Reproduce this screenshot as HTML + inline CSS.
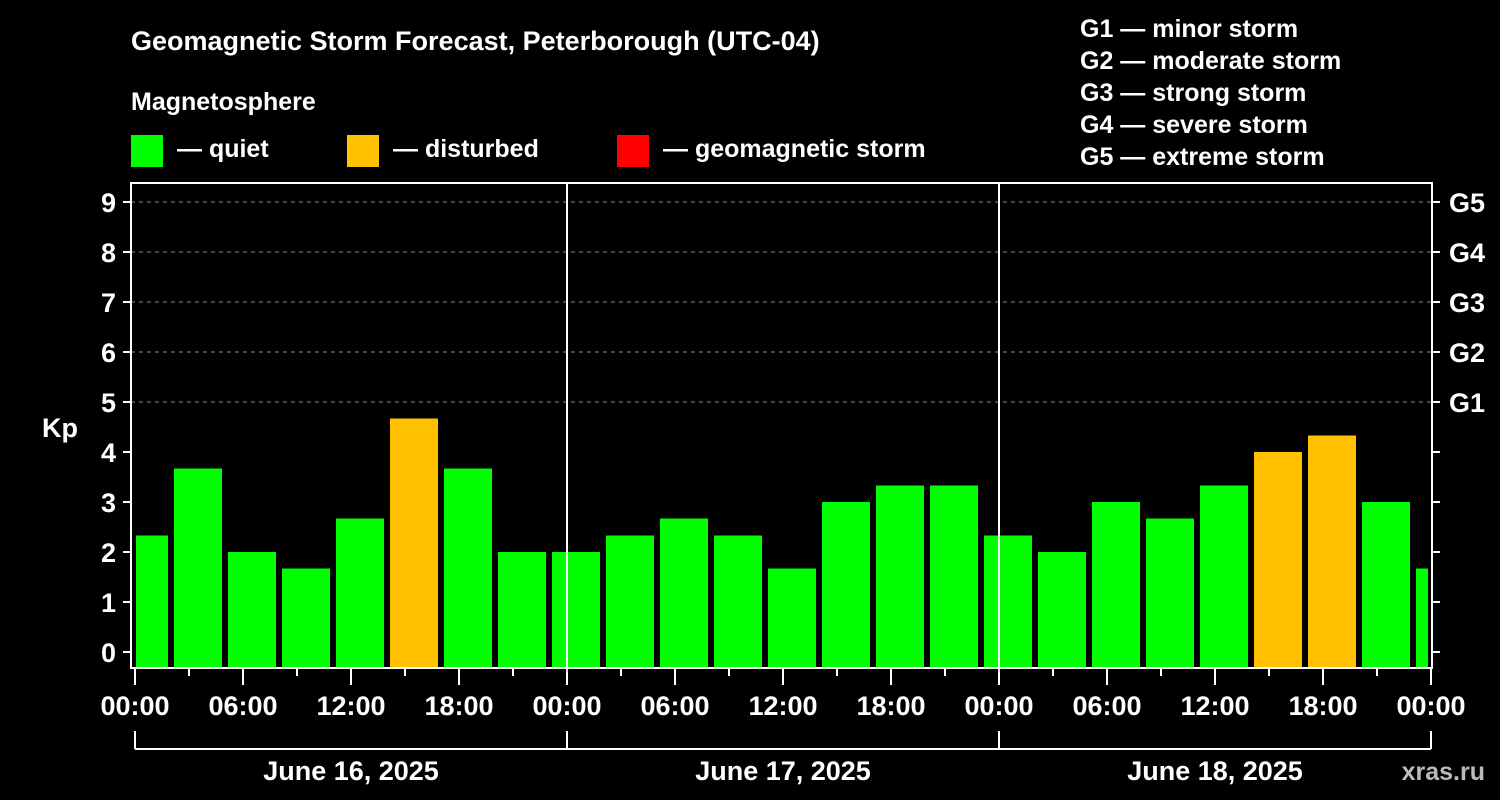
<!DOCTYPE html>
<html><head><meta charset="utf-8"><style>
body{margin:0;background:#000;width:1500px;height:800px;overflow:hidden}
svg{display:block}
text{font-family:"Liberation Sans",sans-serif;font-weight:bold;fill:#fff}
</style></head><body>
<svg id="chart" width="1500" height="800">
<text x="131" y="50" font-size="27">Geomagnetic Storm Forecast, Peterborough (UTC-04)</text>
<text x="131" y="110" font-size="25">Magnetosphere</text>
<g><rect x="131" y="135" width="32" height="32" fill="#00ff00"/><text x="177" y="157" font-size="25">— quiet</text></g>
<g><rect x="347" y="135" width="32" height="32" fill="#ffc000"/><text x="393" y="157" font-size="25">— disturbed</text></g>
<g><rect x="617" y="135" width="32" height="32" fill="#ff0000"/><text x="663" y="157" font-size="25">— geomagnetic storm</text></g>
<g font-size="25">
<text x="1080" y="37">G1 — minor storm</text>
<text x="1080" y="69">G2 — moderate storm</text>
<text x="1080" y="101">G3 — strong storm</text>
<text x="1080" y="133">G4 — severe storm</text>
<text x="1080" y="165">G5 — extreme storm</text>
</g>
<text x="42" y="437" font-size="27">Kp</text>
<text x="1485" y="780" font-size="25" text-anchor="end" fill="#bbb" style="fill:#bbb">xras.ru</text>
<g id="grid"></g><g id="bars"></g><g id="axes"></g>
</svg>
<script>
const kpValues=[2.33,3.67,2.0,1.67,2.67,4.67,3.67,2.0, 2.0,2.33,2.67,2.33,1.67,3.0,3.33,3.33, 2.33,2.0,3.0,2.67,3.33,4.0,4.33,3.0,1.67];
const yTicks=[0,1,2,3,4,5,6,7,8,9];
const gLabels=["G1","G2","G3","G4","G5"];
const xTickLabels=["00:00","06:00","12:00","18:00","00:00","06:00","12:00","18:00","00:00","06:00","12:00","18:00","00:00"];
const dateLabels=["June 16, 2025","June 17, 2025","June 18, 2025"];
const NS="http://www.w3.org/2000/svg";
const L=131,R=1432,T=183,B=668,X0=135,HPX=18;
const y=v=>652-v*50, x=h=>X0+h*HPX;
function mk(tag,attrs,parent,txt){const e=document.createElementNS(NS,tag);for(const k in attrs)e.setAttribute(k,attrs[k]);if(txt!=null)e.textContent=txt;document.getElementById(parent).appendChild(e);return e;}
// grid
for(let i=0;i<gLabels.length;i++){
 const e=mk('line',{x1:L,x2:R,y1:y(5+i),y2:y(5+i),stroke:'#888','stroke-dasharray':'4,4','stroke-width':1},'grid');
 
 
}
// bars
kpValues.forEach((v,i)=>{
 const c=x(i*3+0.5);let a=Math.max(c-24,136),b=Math.min(c+24,1428);
 const col=v>=5?'#ff0000':(v>=4?'#ffc000':'#00ff00');
 const e=mk('rect',{x:a,y:y(v),width:b-a,height:B-y(v),fill:col},'bars');
 
 
});
// axes
const st={stroke:'#fff','stroke-width':2,fill:'none'};
const fr=mk('rect',Object.assign({x:L,y:T,width:R-L,height:B-T},st),'axes');


[1,2].forEach(d=>{const e=mk('line',Object.assign({x1:x(d*24),x2:x(d*24),y1:T,y2:B},st),'axes');
 
 });
yTicks.forEach(t=>{
 mk('line',Object.assign({x1:L-8,x2:L,y1:y(t),y2:y(t)},st),'axes');
 mk('line',Object.assign({x1:R,x2:R+8,y1:y(t),y2:y(t)},st),'axes');
 const e=mk('text',{x:116,y:y(t)+10,'font-size':27,'text-anchor':'end'},'axes',String(t));
 
 
});
gLabels.forEach((g,i)=>{const e=mk('text',{x:1449,y:y(5+i)+10,'font-size':27},'axes',g);
 
 });
for(let h=0;h<=72;h+=3){const major=h%6===0;mk('line',Object.assign({x1:x(h),x2:x(h),y1:B,y2:B+(major?17:8)},st),'axes');}
xTickLabels.forEach((l,i)=>{const e=mk('text',{x:x(i*6),y:715,'font-size':27,'text-anchor':'middle'},'axes',l);
 
 });
mk('line',Object.assign({x1:x(0),x2:x(72),y1:749,y2:749},st),'axes');
for(let d=0;d<=3;d++)mk('line',Object.assign({x1:x(d*24),x2:x(d*24),y1:731,y2:749},st),'axes');
dateLabels.forEach((l,i)=>{const e=mk('text',{x:x(i*24+12),y:780,'font-size':27,'text-anchor':'middle'},'axes',l);
 
 });
</script>
</body></html>
